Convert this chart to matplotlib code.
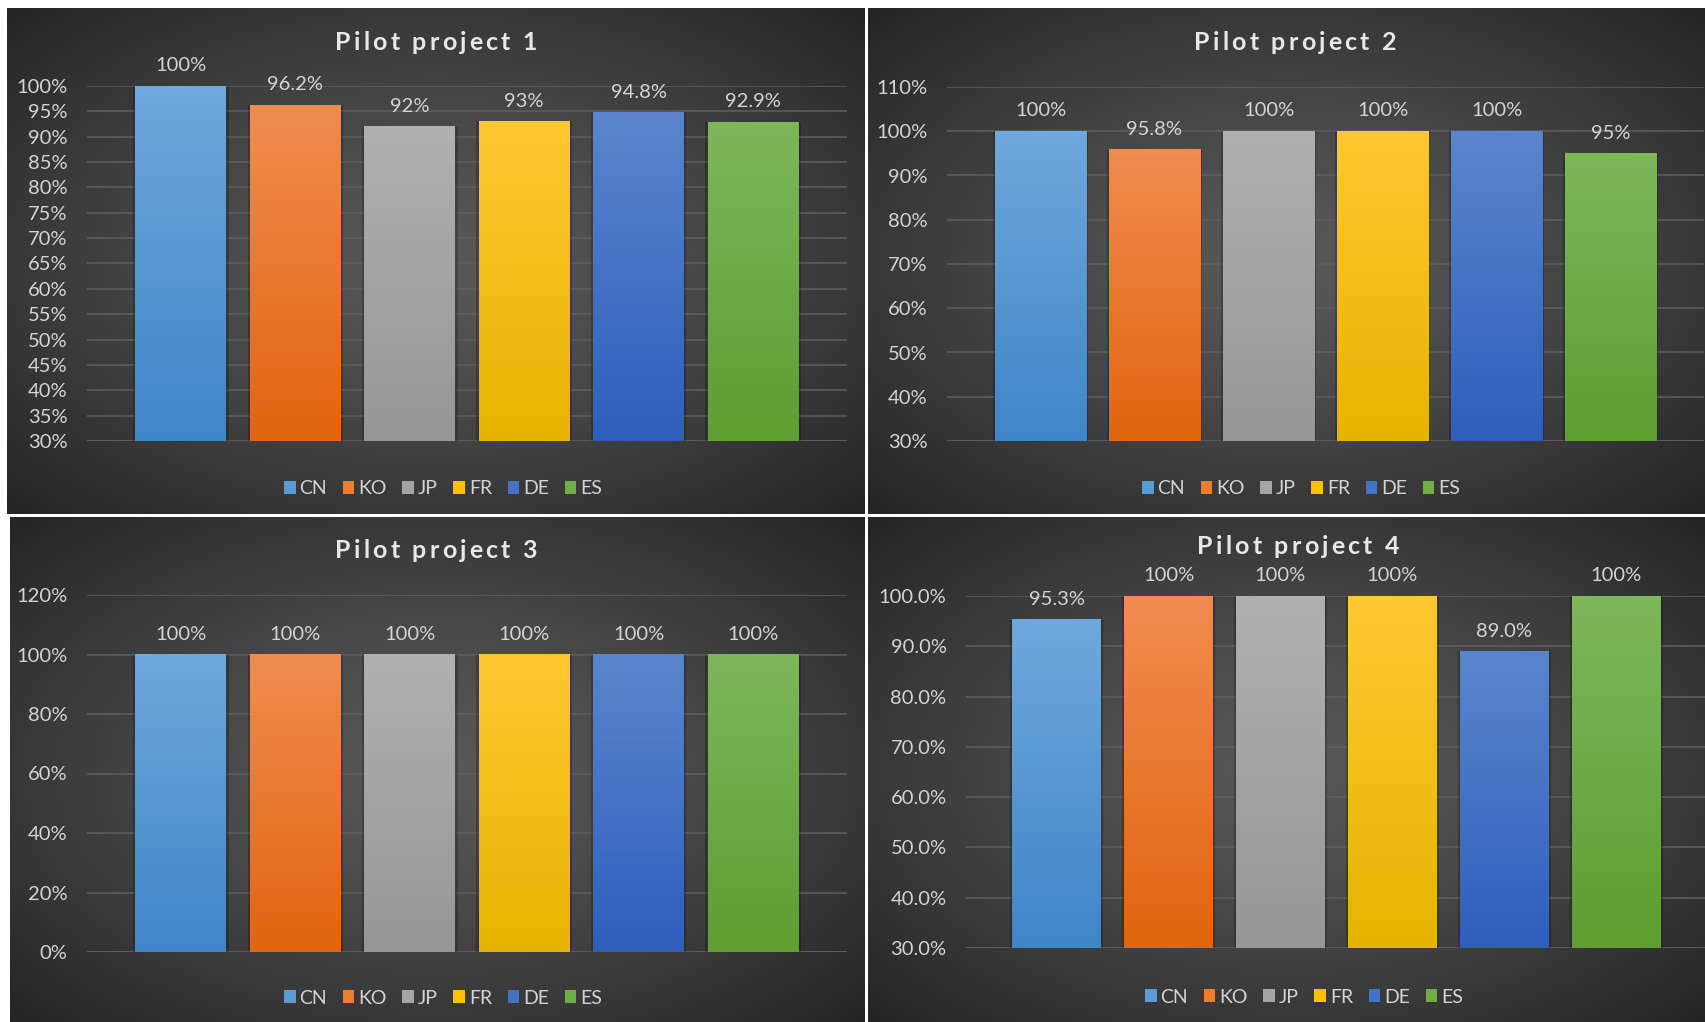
import matplotlib
matplotlib.use('Agg')
import matplotlib.pyplot as plt
import numpy as np
from matplotlib.colors import to_rgb
from matplotlib.patches import Patch
from matplotlib.font_manager import FontProperties
from matplotlib.textpath import TextToPath

plt.rcParams['font.family'] = ['Lato', 'DejaVu Sans']

# data
categories = ['CN', 'KO', 'JP', 'FR', 'DE', 'ES']
titles = ['Pilot project 1', 'Pilot project 2', 'Pilot project 3', 'Pilot project 4']

p1_values = [1.00, 0.962, 0.92, 0.93, 0.948, 0.929]
p1_labels = ['100%', '96.2%', '92%', '93%', '94.8%', '92.9%']
p2_values = [1.00, 0.958, 1.00, 1.00, 1.00, 0.95]
p2_labels = ['100%', '95.8%', '100%', '100%', '100%', '95%']
p3_values = [1.00, 1.00, 1.00, 1.00, 1.00, 1.00]
p3_labels = ['100%', '100%', '100%', '100%', '100%', '100%']
p4_values = [0.953, 1.00, 1.00, 1.00, 0.89, 1.00]
p4_labels = ['95.3%', '100%', '100%', '100%', '89.0%', '100%']

# styles
top_colors = ['#6fa8dc', '#f08c50', '#b0b0b0', '#ffc832', '#5a85cc', '#7db75a']
bottom_colors = ['#3f86c8', '#e2650f', '#979797', '#e6b400', '#2e5fbd', '#5e9e32']
legend_colors = ['#5b9bd5', '#ed7d31', '#a5a5a5', '#ffc000', '#4472c4', '#70ad47']
TEXT = '#d4d4d4'
GRID = '#5f5f5f'

W, H = 1706, 1022


def rect(x0, y0, x1, y1):
    return [x0 / W, 1 - y1 / H, (x1 - x0) / W, (y1 - y0) / H]


def background(fig, box):
    ax = fig.add_axes(rect(*box), zorder=0)
    u = np.linspace(-1, 1, 300)
    v = np.linspace(-1, 1, 200)
    uu, vv = np.meshgrid(u, v)
    r = np.clip(np.sqrt(uu ** 2 + vv ** 2) / np.sqrt(2), 0, 1)
    g = 88 - 52 * r ** 1.3
    img = np.dstack([g, g, g]) / 255.0
    ax.imshow(img, extent=[0, 1, 0, 1], aspect='auto')
    ax.set_axis_off()


def spaced_title(fig, cx, cy, s, size, spacing):
    # Excel title with expanded letter spacing, drawn char by char on a common baseline
    prop = FontProperties(family='Lato', weight='bold', size=size)
    t2p = TextToPath()
    widths = [t2p.get_text_width_height_descent(c, prop, ismath=False)[0] * 100 / 72 for c in s]
    total = sum(widths) + spacing * (len(s) - 1)
    x = cx - total / 2
    base = cy + 8.5
    for c, w in zip(s, widths):
        fig.text(x / W, 1 - base / H, c, fontproperties=prop, color='#e8e8e8',
                 ha='left', va='baseline', zorder=5)
        x += w + spacing


def draw_panel(fig, box, axbox, values, labels, ylim, ticks, fmt, xlim, width, title, title_pos, legend_pos):
    background(fig, box)
    ax = fig.add_axes(rect(*axbox), zorder=2)
    ax.set_facecolor('none')
    x = np.arange(len(values))
    # shadows
    ax.bar(x, np.array(values) - ylim[0], bottom=ylim[0], width=width + 0.04,
           color='black', alpha=0.22, zorder=1)
    for i, v in enumerate(values):
        c0 = np.array(to_rgb(top_colors[i]))
        c1 = np.array(to_rgb(bottom_colors[i]))
        t = np.linspace(0, 1, 64)[:, None]
        grad = (c0 * (1 - t) + c1 * t)[:, None, :]
        ax.imshow(grad, extent=[x[i] - width / 2, x[i] + width / 2, ylim[0], v],
                  aspect='auto', zorder=2)
        ax.annotate(labels[i], (x[i], v), xytext=(0, 8.5), textcoords='offset points',
                    ha='center', va='bottom', color=TEXT, fontsize=14.5, annotation_clip=False)
    ax.set_xlim(*xlim)
    ax.set_ylim(*ylim)
    ax.set_yticks(ticks)
    ax.set_yticklabels([fmt % round(t * 100, 1) for t in ticks])
    ax.set_xticks([])
    ax.tick_params(axis='y', length=0, pad=14, labelsize=14.5, labelcolor=TEXT)
    ax.grid(axis='y', color=GRID, linewidth=1.1, zorder=0)
    ax.set_axisbelow(True)
    for s in ax.spines.values():
        s.set_visible(False)
    ax.axhline(ylim[0], color=GRID, linewidth=1.1, zorder=0)

    spaced_title(fig, title_pos[0], title_pos[1], title, 18, 3.2)

    handles = [Patch(facecolor=c, edgecolor='none') for c in legend_colors]
    fig.legend(handles, categories, loc='center',
               bbox_to_anchor=(legend_pos[0] / W, 1 - legend_pos[1] / H),
               ncol=6, frameon=False, fontsize=14, labelcolor=TEXT,
               handlelength=0.6, handleheight=0.6, handletextpad=0.2,
               columnspacing=0.8, borderpad=0)


def main():
    fig = plt.figure(figsize=(W / 100, H / 100), dpi=100)
    fig.patch.set_facecolor('white')

    draw_panel(fig, (7, 8, 865, 514), (87, 86, 847, 441), p1_values, p1_labels,
               (0.30, 1.00), np.arange(0.30, 1.001, 0.05), '%d%%', (-0.82, 5.82), 0.795,
               titles[0], (436, 41), (443, 489))
    draw_panel(fig, (868, 8, 1706, 514), (947, 87, 1704, 441), p2_values, p2_labels,
               (0.30, 1.10), np.arange(0.30, 1.101, 0.10), '%d%%', (-0.82, 5.82), 0.80,
               titles[1], (1295, 41), (1301, 489))
    draw_panel(fig, (10, 517, 865, 1022), (87, 595, 847, 952), p3_values, p3_labels,
               (0.0, 1.20), np.arange(0.0, 1.201, 0.20), '%d%%', (-0.82, 5.82), 0.795,
               titles[2], (436, 549), (443, 998))
    draw_panel(fig, (868, 517, 1706, 1022), (966, 596, 1708, 948), p4_values, p4_labels,
               (0.30, 1.00), np.arange(0.30, 1.001, 0.10), '%.1f%%', (-0.81, 5.82), 0.795,
               titles[3], (1298, 546), (1304, 997))

    fig.savefig('out.png', dpi=100, facecolor='white')


if __name__ == '__main__':
    main()
